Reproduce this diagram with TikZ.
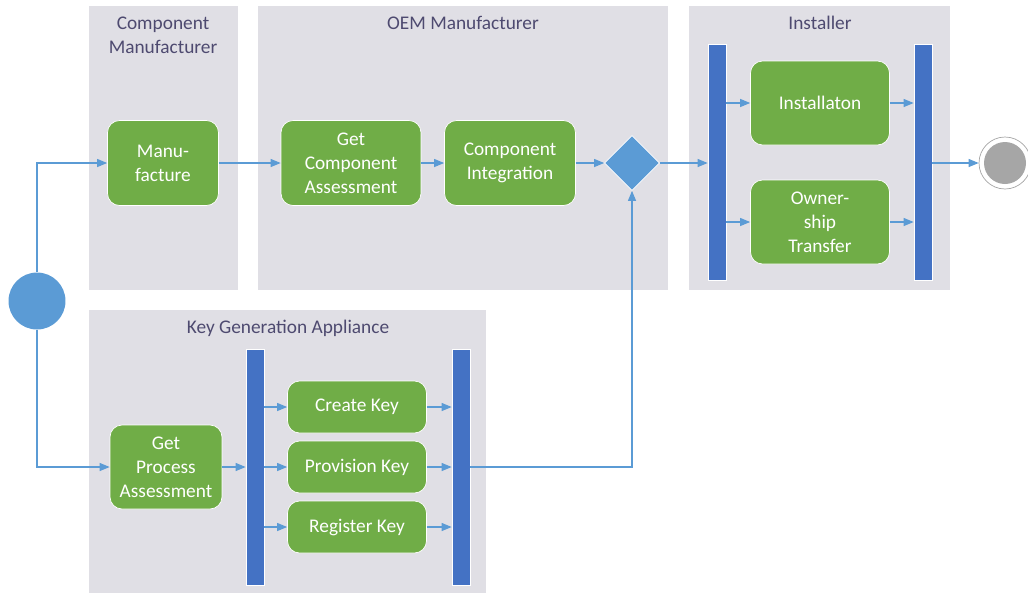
\documentclass[tikz,border=0pt]{standalone}
\usepackage{fontspec}
\setmainfont{Carlito}
\usetikzlibrary{arrows.meta,shapes.geometric}
\definecolor{lanegray}{RGB}{224,223,229}
\definecolor{actgreen}{RGB}{112,173,71}
\definecolor{barblue}{RGB}{68,114,196}
\definecolor{flowblue}{RGB}{91,155,213}
\definecolor{titlecol}{RGB}{78,74,112}
\definecolor{endgray}{RGB}{166,166,166}

\begin{document}
\begin{tikzpicture}[x=0.02cm,y=-0.02cm,
  lane/.style = {fill=lanegray,draw=none},
  title/.style = {text=titlecol,align=center,font=\fontsize{11}{13.6}\selectfont},
  act/.style = {rectangle,rounded corners=0.24cm,fill=actgreen,draw=white,thin,text=white,align=center,
                font=\fontsize{11}{13.6}\selectfont,inner sep=0pt},
  bar/.style = {rectangle,fill=barblue,draw=white,thin,minimum width=0.36cm,minimum height=4.72cm,inner sep=0pt},
  flow/.style = {draw=flowblue,line width=0.6pt,-{Triangle[length=2mm,width=1.6mm]}}]
\useasboundingbox (0,0) rectangle (1028,593);
% swim lanes
\fill[lane] (89,6) rectangle (238,290);
\fill[lane] (258,6) rectangle (668,290);
\fill[lane] (689,6) rectangle (950,290);
\fill[lane] (89,310) rectangle (486,593);
\node[title] (cmtitle) at (163,35) {Component\\Manufacturer};
\node[title] (oemtitle) at (463,23) {OEM Manufacturer};
\node[title] (insttitle) at (820,23) {Installer};
\node[title] (kgtitle) at (288,328) {Key Generation Appliance};
% start and end
\node[circle,fill=flowblue,minimum size=1.14cm,inner sep=0pt] (start) at (37,301) {};
\node[circle,draw=endgray,fill=white,minimum size=1.04cm,inner sep=0pt] (stop) at (1005,163) {};
\node[circle,fill=endgray,minimum size=0.84cm,inner sep=0pt] (stopin) at (stop.center) {};
% activities
\node[act,minimum width=2.22cm,minimum height=1.7cm] (manu) at (163,163) {Manu-\\facture};
\node[act,minimum width=2.8cm,minimum height=1.7cm] (gca) at (351,163) {Get\\Component\\Assessment};
\node[act,minimum width=2.62cm,minimum height=1.7cm] (ci) at (510,163) {Component\\Integration};
\node[diamond,aspect=1,fill=flowblue,draw=white,thin,minimum size=1.1cm,inner sep=0pt] (dia) at (632,163) {};
\node[act,minimum width=2.78cm,minimum height=1.68cm] (inst) at (820,103) {Installaton};
\node[act,minimum width=2.78cm,minimum height=1.68cm] (own) at (820,222) {Owner-\\ship\\Transfer};
\node[act,minimum width=2.24cm,minimum height=1.68cm] (gpa) at (166,467) {Get\\Process\\Assessment};
\foreach \n/\t [count=\j from 0] in {ck/Create Key, pk/Provision Key, rk/Register Key}
    \node[act,minimum width=2.78cm,minimum height=1.04cm] (\n) at (357,407+60*\j) {\t};
% fork and join bars
\node[bar] (ibarL) at (717,162) {};
\node[bar] (ibarR) at (923,162) {};
\node[bar] (kbarL) at (255,467) {};
\node[bar] (kbarR) at (461,467) {};
% flows
\draw[flow] (start.north) |- (manu.west);
\draw[flow] (start.south) |- (gpa.west);
\draw[flow] (manu) -- (gca);
\draw[flow] (gca) -- (ci);
\draw[flow] (ci) -- (dia);
\draw[flow] (dia.east) -- (ibarL.west |- dia);
\foreach \n in {inst,own} {
    \draw[flow] (ibarL.east |- \n) -- (\n.west);
    \draw[flow] (\n.east) -- (ibarR.west |- \n);
}
\draw[flow] (ibarR.east |- stop) -- (stop.west);
\draw[flow] (gpa.east) -- (kbarL.west |- gpa);
\foreach \n in {ck,pk,rk} {
    \draw[flow] (kbarL.east |- \n) -- (\n.west);
    \draw[flow] (\n.east) -- (kbarR.west |- \n);
}
\draw[flow] (kbarR.east |- pk) -| (dia.south);
\end{tikzpicture}
\end{document}
